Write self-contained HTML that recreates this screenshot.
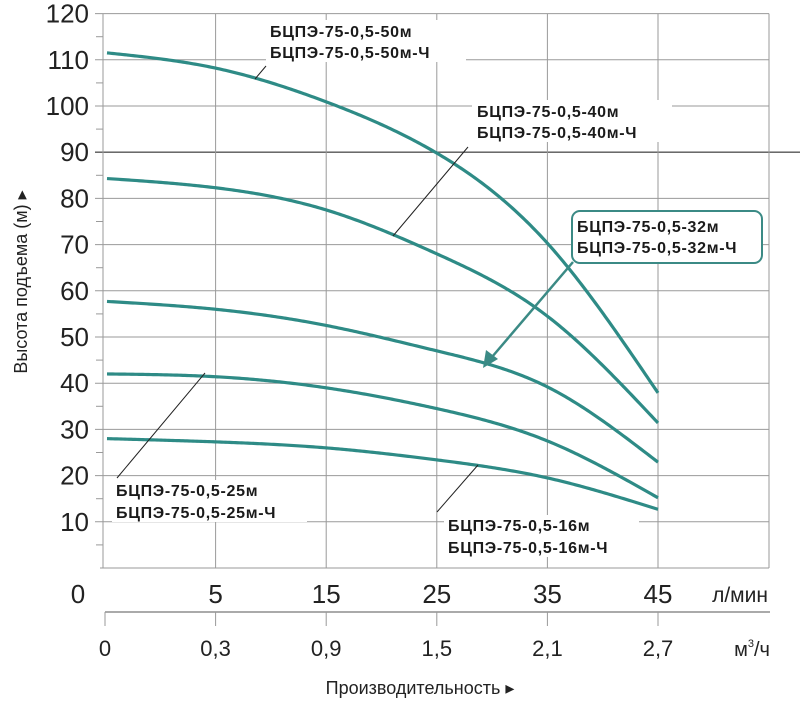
<!DOCTYPE html>
<html><head><meta charset="utf-8">
<style>
html,body{margin:0;padding:0;background:#fff;}
svg{display:block;font-family:"Liberation Sans",sans-serif;}
.lbl{font-weight:bold;font-size:16px;letter-spacing:0.7px;fill:#1a1a1a;}
</style></head>
<body>
<svg id="chart" width="800" height="703" viewBox="0 0 800 703">
<g id="grid"></g>
<g id="curves"></g>
<g id="annot"></g>
<g id="axes"></g>
</svg>
<script>
const flowLabels = ["0","5","15","25","35","45"];
const m3Labels = ["0","0,3","0,9","1,5","2,1","2,7"];
const yTicks = [10,20,30,40,50,60,70,80,90,100,110,120];
const series50 = [111.5,108.2,100.9,89.8,70.3,37.9];
const series40 = [84.3,82.3,77.5,68.0,54.5,31.4];
const series32 = [57.7,56.0,52.5,47.0,39.2,22.9];
const series25 = [42.0,41.4,39.0,34.5,27.5,15.2];
const series16 = [28.0,27.3,26.0,23.4,19.5,12.7];

const NS="http://www.w3.org/2000/svg";
const X0=105, XSTEP=110.6, Y0=568, YK=4.62;
const xS=i=>X0+i*XSTEP;
const yS=v=>Y0-v*YK;
function mk(tag,attrs,parent){const e=document.createElementNS(NS,tag);for(const k in attrs)e.setAttribute(k,attrs[k]);parent.appendChild(e);return e;}
const grid=document.getElementById('grid'),curves=document.getElementById('curves'),axes=document.getElementById('axes');

yTicks.forEach(v=>{
  const l=mk('line',{x1:95,x2:v===90?800:769,y1:yS(v),y2:yS(v),stroke:v===90?'#555':'#9a9a9a','stroke-width':v===90?1.4:1},grid);
  
  
  const m=mk('line',{x1:96,x2:103,y1:yS(v-5),y2:yS(v-5),stroke:'#9a9a9a'},grid);
  
  
});
mk('line',{x1:100,x2:769,y1:Y0,y2:Y0,stroke:'#9a9a9a'},grid);
flowLabels.forEach((t,i)=>{
  const x=i===0?103:xS(i);
  const l=mk('line',{x1:x,x2:x,y1:yS(120),y2:Y0,stroke:'#9a9a9a'},grid);
  
  
});
mk('line',{x1:769,x2:769,y1:yS(120),y2:Y0,stroke:'#9a9a9a'},grid);

// natural cubic spline through points
function pathFor(vals){
  const xs=vals.map((v,i)=>i===0?107:xS(i)), ys=vals.map(yS), n=xs.length;
  const h=[],al=[0],l=[1],mu=[0],z=[0],c=new Array(n).fill(0),b=[],d=[];
  for(let i=0;i<n-1;i++)h.push(xs[i+1]-xs[i]);
  for(let i=1;i<n-1;i++)al.push(3/h[i]*(ys[i+1]-ys[i])-3/h[i-1]*(ys[i]-ys[i-1]));
  for(let i=1;i<n-1;i++){l[i]=2*(xs[i+1]-xs[i-1])-h[i-1]*mu[i-1];mu[i]=h[i]/l[i];z[i]=(al[i]-h[i-1]*z[i-1])/l[i];}
  for(let j=n-2;j>=0;j--){c[j]=(j===0?0:z[j]-mu[j]*c[j+1]);b[j]=(ys[j+1]-ys[j])/h[j]-h[j]*(c[j+1]+2*c[j])/3;d[j]=(c[j+1]-c[j])/(3*h[j]);}
  let dd='M'+xs[0]+','+ys[0];
  for(let j=0;j<n-1;j++){
    for(let t=2;t<=h[j];t+=2){dd+=' L'+(xs[j]+t).toFixed(1)+','+(ys[j]+b[j]*t+c[j]*t*t+d[j]*t*t*t).toFixed(2);}
    dd+=' L'+xs[j+1]+','+ys[j+1];
  }
  return dd;
}
[["50",series50],["40",series40],["32",series32],["25",series25],["16",series16]].forEach(([n,s])=>{
  const p=mk('path',{d:pathFor(s),fill:'none',stroke:'#2e8b86','stroke-width':3.2,'stroke-linejoin':'round'},curves);
  
  
});

yTicks.forEach(v=>{
  const t=mk('text',{x:89,y:yS(v)+9,'text-anchor':'end','font-size':26,fill:'#222'},axes);
  t.textContent=v;
  
  
});
flowLabels.forEach((t,i)=>{
  const e=mk('text',{x:i===0?78:xS(i),y:603,'text-anchor':'middle','font-size':26,fill:'#222'},axes);
  e.textContent=t;
  
  
});
mk('line',{x1:105,x2:770,y1:612,y2:612,stroke:'#777','stroke-width':1.3},axes);
m3Labels.forEach((t,i)=>{
  const x=xS(i);
  mk('line',{x1:x,x2:x,y1:612,y2:626,stroke:'#999'},axes);
  const e=mk('text',{x:x,y:656,'text-anchor':'middle','font-size':22,fill:'#222'},axes);
  e.textContent=t;
  
  
});

document.getElementById('chart').insertAdjacentHTML('beforeend',`
<text x="740" y="602" font-size="21" fill="#222" text-anchor="middle">л/мин</text>
<text x="752" y="656" font-size="20" fill="#222" text-anchor="middle">м<tspan font-size="11" dy="-9">3</tspan><tspan dy="9">/ч</tspan></text>
<text x="420" y="694" font-size="18" fill="#222" text-anchor="middle">Производительность ▸</text>
<text transform="translate(27,282) rotate(-90)" font-size="18" fill="#222" text-anchor="middle">Высота подъема (м) ▸</text>
<g>
<rect x="266" y="20" width="200" height="42" fill="#fff"/>
<text class="lbl" x="270" y="37">БЦПЭ-75-0,5-50м</text>
<text class="lbl" x="270" y="58">БЦПЭ-75-0,5-50м-Ч</text>
<line x1="255" y1="79" x2="266" y2="66" stroke="#222"/></g>
<g>
<rect x="472" y="100" width="200" height="42" fill="#fff"/>
<text class="lbl" x="477" y="117">БЦПЭ-75-0,5-40м</text>
<text class="lbl" x="477" y="138">БЦПЭ-75-0,5-40м-Ч</text>
<line x1="468" y1="147" x2="393" y2="236" stroke="#222"/></g>
<g>
<rect x="572" y="211" width="190" height="52" rx="8" fill="#fff" stroke="#3b8a85" stroke-width="2"/>
<text class="lbl" x="577" y="232">БЦПЭ-75-0,5-32м</text>
<text class="lbl" x="577" y="253">БЦПЭ-75-0,5-32м-Ч</text>
<line x1="573" y1="262" x2="492" y2="357" stroke="#3b8a85" stroke-width="2.5"/>
<polygon points="483,368 486,350 498,359" fill="#3b8a85"/></g>
<g>
<rect x="112" y="480" width="195" height="42" fill="#fff"/>
<text class="lbl" x="116" y="496">БЦПЭ-75-0,5-25м</text>
<text class="lbl" x="116" y="518">БЦПЭ-75-0,5-25м-Ч</text>
<line x1="117" y1="478" x2="205" y2="373" stroke="#222"/></g>
<g>
<rect x="444" y="515" width="195" height="42" fill="#fff"/>
<text class="lbl" x="448" y="531">БЦПЭ-75-0,5-16м</text>
<text class="lbl" x="448" y="553">БЦПЭ-75-0,5-16м-Ч</text>
<line x1="437" y1="512" x2="478" y2="465" stroke="#222"/></g>
`);
</script>
</body></html>
